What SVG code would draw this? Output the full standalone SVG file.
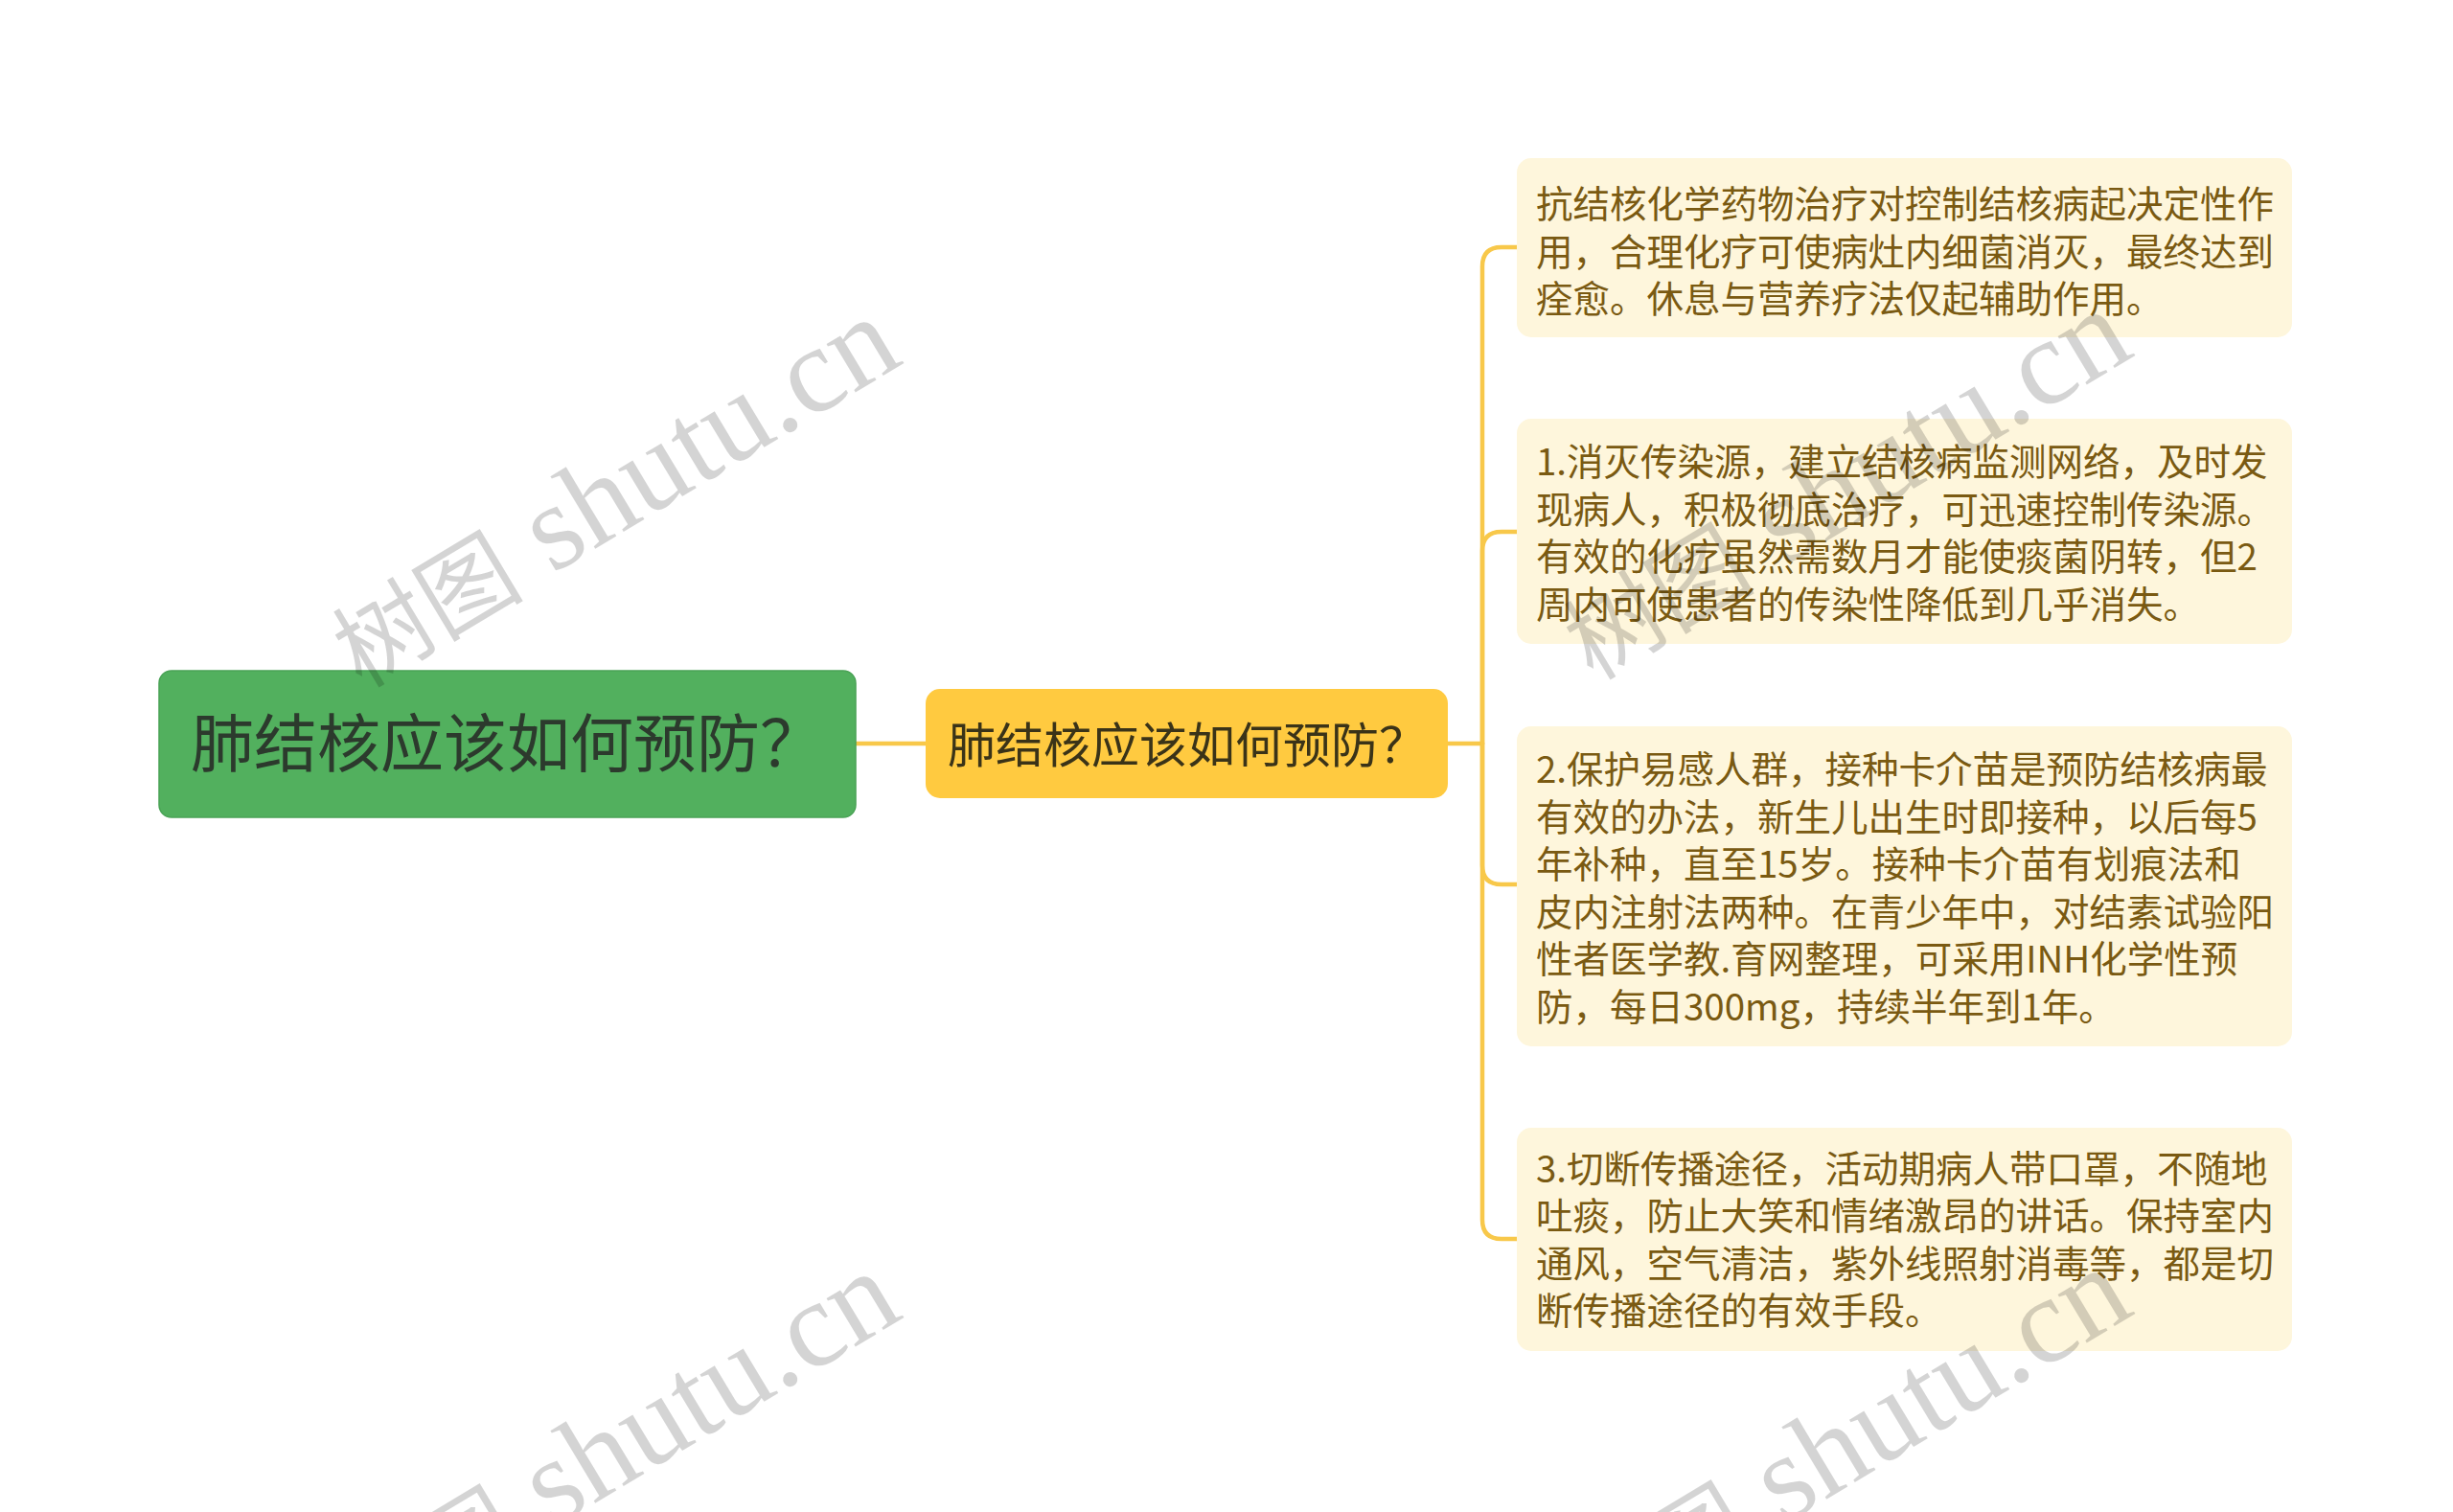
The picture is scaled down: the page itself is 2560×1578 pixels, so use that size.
<svg xmlns="http://www.w3.org/2000/svg" width="2560" height="1578" viewBox="0 0 2560 1578">
<style>
.cjk{font-family:"Noto Sans CJK SC","Noto Sans",sans-serif;}
.leafbox{fill:#FEF6DC;}
.leaftxt{font-size:38.5px;fill:#7A5A12;}
.conn{fill:none;stroke:#F8C84A;stroke-width:4.5;stroke-linecap:round;}
.wm{font-family:"Liberation Serif","Noto Sans CJK SC",serif;fill:#000;fill-opacity:0.17;}
</style>
<rect width="2560" height="1578" fill="#FFFFFF"/>
<g id="connectors">
<path class="conn" d="M893,776 L966,776"/>
<path class="conn" d="M1511,776 L1547,776"/>
<path class="conn" d="M1547,776 L1547,278 Q1547,258 1567,258 L1583,258"/>
<path class="conn" d="M1547,776 L1547,575 Q1547,555 1567,555 L1583,555"/>
<path class="conn" d="M1547,776 L1547,903 Q1547,923 1567,923 L1583,923"/>
<path class="conn" d="M1547,776 L1547,1273 Q1547,1293 1567,1293 L1583,1293"/>
</g>
<g id="root">
<rect x="166" y="700" width="727" height="153" rx="13" fill="#52B05E" stroke="#4AA356" stroke-width="1.5"/>
<text class="cjk" x="199" y="800" font-size="66" fill="#2C3A2D">肺结核应该如何预防？</text>
</g>
<g id="child">
<rect x="966" y="719" width="545" height="114" rx="15" fill="#FFCA40"/>
<text class="cjk" x="989" y="796" font-size="50" fill="#3A3318">肺结核应该如何预防？</text>
</g>
<g id="leaf1">
<rect class="leafbox" x="1583" y="165" width="809" height="187" rx="15"/>
<text class="cjk leaftxt">
<tspan x="1603" y="227">抗结核化学药物治疗对控制结核病起决定性作</tspan>
<tspan x="1603" y="276.5">用，合理化疗可使病灶内细菌消灭，最终达到</tspan>
<tspan x="1603" y="326">痊愈。休息与营养疗法仅起辅助作用。</tspan>
</text>
</g>
<g id="leaf2">
<rect class="leafbox" x="1583" y="437" width="809" height="235" rx="15"/>
<text class="cjk leaftxt">
<tspan x="1603" y="496">1.消灭传染源，建立结核病监测网络，及时发</tspan>
<tspan x="1603" y="545.5">现病人，积极彻底治疗，可迅速控制传染源。</tspan>
<tspan x="1603" y="595">有效的化疗虽然需数月才能使痰菌阴转，但2</tspan>
<tspan x="1603" y="644.5">周内可使患者的传染性降低到几乎消失。</tspan>
</text>
</g>
<g id="leaf3">
<rect class="leafbox" x="1583" y="758" width="809" height="334" rx="15"/>
<text class="cjk leaftxt">
<tspan x="1603" y="817">2.保护易感人群，接种卡介苗是预防结核病最</tspan>
<tspan x="1603" y="866.5">有效的办法，新生儿出生时即接种，以后每5</tspan>
<tspan x="1603" y="916">年补种，直至15岁。接种卡介苗有划痕法和</tspan>
<tspan x="1603" y="965.5">皮内注射法两种。在青少年中，对结素试验阳</tspan>
<tspan x="1603" y="1015">性者医学教.育网整理，可采用INH化学性预</tspan>
<tspan x="1603" y="1064.5">防，每日300mg，持续半年到1年。</tspan>
</text>
</g>
<g id="leaf4">
<rect class="leafbox" x="1583" y="1177" width="809" height="233" rx="15"/>
<text class="cjk leaftxt">
<tspan x="1603" y="1233.5">3.切断传播途径，活动期病人带口罩，不随地</tspan>
<tspan x="1603" y="1283">吐痰，防止大笑和情绪激昂的讲话。保持室内</tspan>
<tspan x="1603" y="1332.5">通风，空气清洁，紫外线照射消毒等，都是切</tspan>
<tspan x="1603" y="1382">断传播途径的有效手段。</tspan>
</text>
</g>
<g id="watermarks">
<text class="wm" text-anchor="end" transform="translate(945,378) rotate(-31)"><tspan font-size="100">树图</tspan><tspan font-size="128"> shutu.cn</tspan></text>
<text class="wm" text-anchor="end" transform="translate(2230,370) rotate(-31)"><tspan font-size="100">树图</tspan><tspan font-size="128"> shutu.cn</tspan></text>
<text class="wm" text-anchor="end" transform="translate(945,1374) rotate(-31)"><tspan font-size="100">树图</tspan><tspan font-size="128"> shutu.cn</tspan></text>
<text class="wm" text-anchor="end" transform="translate(2230,1370) rotate(-31)"><tspan font-size="100">树图</tspan><tspan font-size="128"> shutu.cn</tspan></text>
</g>
</svg>
